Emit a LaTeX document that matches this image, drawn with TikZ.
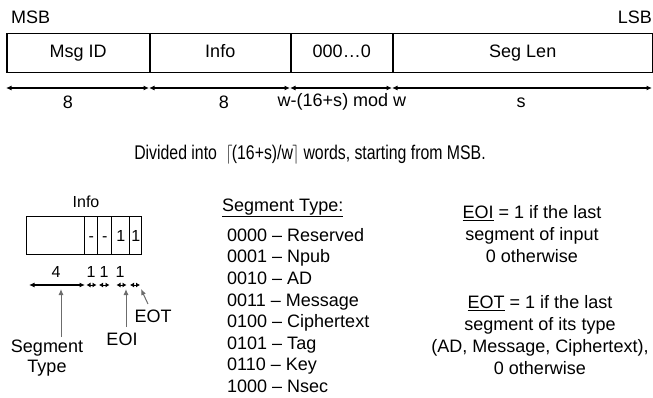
\documentclass[tikz,border=0pt]{standalone}
\usepackage{fontspec}
\setmainfont{Liberation Sans}
\usetikzlibrary{arrows.meta}
\begin{document}
\begin{tikzpicture}[x=1pt,y=-1pt,
  font=\fontsize{18}{21}\selectfont,
  cell/.style={draw, line width=1.5pt, minimum height=39pt, inner sep=0pt, anchor=north west, text height=12.5pt, text depth=3.5pt},
  scell/.style={draw, line width=1.4pt, minimum height=38pt, inner sep=0pt, anchor=north west, font=\fontsize{16}{18}\selectfont, text height=11pt, text depth=0pt},
  dim/.style={line width=1.1pt, {Latex[length=5.5pt,width=5pt]}-{Latex[length=5.5pt,width=5pt]}},
  sdim/.style={line width=1pt, {Latex[length=4pt,width=5pt]}-{Latex[length=4pt,width=5pt]}},
  ptr/.style={draw=gray!85!black, line width=1pt, -{Latex[length=6pt,width=5pt]}},
  txt/.style={inner sep=0pt},
  small/.style={inner sep=0pt, font=\fontsize{16}{18}\selectfont}]
\useasboundingbox (0,0) rectangle (653,398);

% top word
\node[txt, anchor=west] (msb) at (11,17) {MSB};
\node[txt, anchor=east] (lsb) at (652,17) {LSB};
\node[cell, minimum width=143pt] (msgid) at (6,33) {Msg ID};
\node[cell, minimum width=141pt] (info) at (149,33) {Info};
\node[cell, minimum width=102pt] (zeros) at (290,33) {000\ldots0};
\node[cell, minimum width=260pt] (seglen) at (392,33) {Seg Len};

% dimension lines
\coordinate (d0) at (6,88);
\coordinate (d1) at (149,88);
\coordinate (d2) at (290,88);
\coordinate (d3) at (392,88);
\coordinate (d4) at (652,88);
\draw[dim] (d0) -- (d1);
\draw[dim] (d1) -- (d2);
\draw[dim] (d2) -- (d3);
\draw[dim] (d3) -- (d4);
\node[txt] (l8a) at (68,102) {8};
\node[txt] (l8b) at (224,102) {8};
\node[txt] (lw) at (342,102) {w-(16+s) mod w};
\node[txt] (ls) at (521,103) {s};

% divided line
\node[txt] (div) at (310,155) {\scalebox{0.88}[1.1]{Divided into\ \ $\left\lceil\vphantom{(}\right.$\kern-2pt(16+s)/w\kern-2pt$\left.\vphantom{(}\right\rceil$ words, starting from MSB.}};

% small info box
\node[small] (infolab) at (86,202) {Info};
\node[scell, minimum width=58pt] (c0) at (26,216) {};
\node[scell, minimum width=13pt] (c1) at (84,216) {-};
\node[scell, minimum width=14pt] (c2) at (97,216) {-};
\node[scell, minimum width=18pt] (c3) at (111,216) {1};
\node[scell, minimum width=12pt] (c4) at (129,216) {1};

\node[small] (n4) at (56,272) {4};
\node[small] (n1a) at (91,272) {1};
\node[small] (n1b) at (104,272) {1};
\node[small] (n1c) at (120,272) {1};

\coordinate (s0) at (29,285);
\coordinate (s1) at (85,285);
\coordinate (s2) at (86.5,285);
\coordinate (s3) at (96.5,285);
\coordinate (s4) at (99,285);
\coordinate (s5) at (109.5,285);
\coordinate (s6) at (116.5,285);
\coordinate (s7) at (126.5,285);
\coordinate (s8) at (130,285);
\coordinate (s9) at (140,285);
\draw[dim] (s0) -- (s1);
\draw[sdim] (s2) -- (s3);
\draw[sdim] (s4) -- (s5);
\draw[sdim] (s6) -- (s7);
\draw[sdim] (s8) -- (s9);

\node[txt] (segtype) at (47,358) {\begin{tabular}{@{}c@{}}Segment\\[-1pt]Type\end{tabular}};
\node[txt] (eoi) at (122,339) {EOI};
\node[txt] (eot) at (153,316) {EOT};
\coordinate (pst) at (61,289);
\coordinate (pst0) at (61,337);
\coordinate (peoi) at (126,289);
\coordinate (peoi0) at (126,327);
\coordinate (peot) at (141,289);
\coordinate (peot0) at (148,304);
\draw[ptr] (pst0) -- (pst);
\draw[ptr] (peoi0) -- (peoi);
\draw[ptr] (peot0) -- (peot);

% segment type list
\node[txt, anchor=west] (sthead) at (222,208) {\underline{Segment Type:}};
\node[txt, anchor=north west, align=left, font=\fontsize{18}{21.6}\selectfont] (stlist) at (227,228) {%
0000 -- Reserved\\
0001 -- Npub\\
0010 -- AD\\
0011 -- Message\\
0100 -- Ciphertext\\
0101 -- Tag\\
0110 -- Key\\
1000 -- Nsec};

% explanations
\node[txt, align=center, font=\fontsize{18}{22}\selectfont] (eoitxt) at (532,234) {\underline{EOI} = 1 if the last\\segment of input\\0 otherwise};
\node[txt, align=center, font=\fontsize{18}{22}\selectfont] (eottxt) at (540,335) {\underline{EOT} = 1 if the last\\segment of its type\\(AD, Message, Ciphertext),\\0 otherwise};
\end{tikzpicture}
\end{document}
